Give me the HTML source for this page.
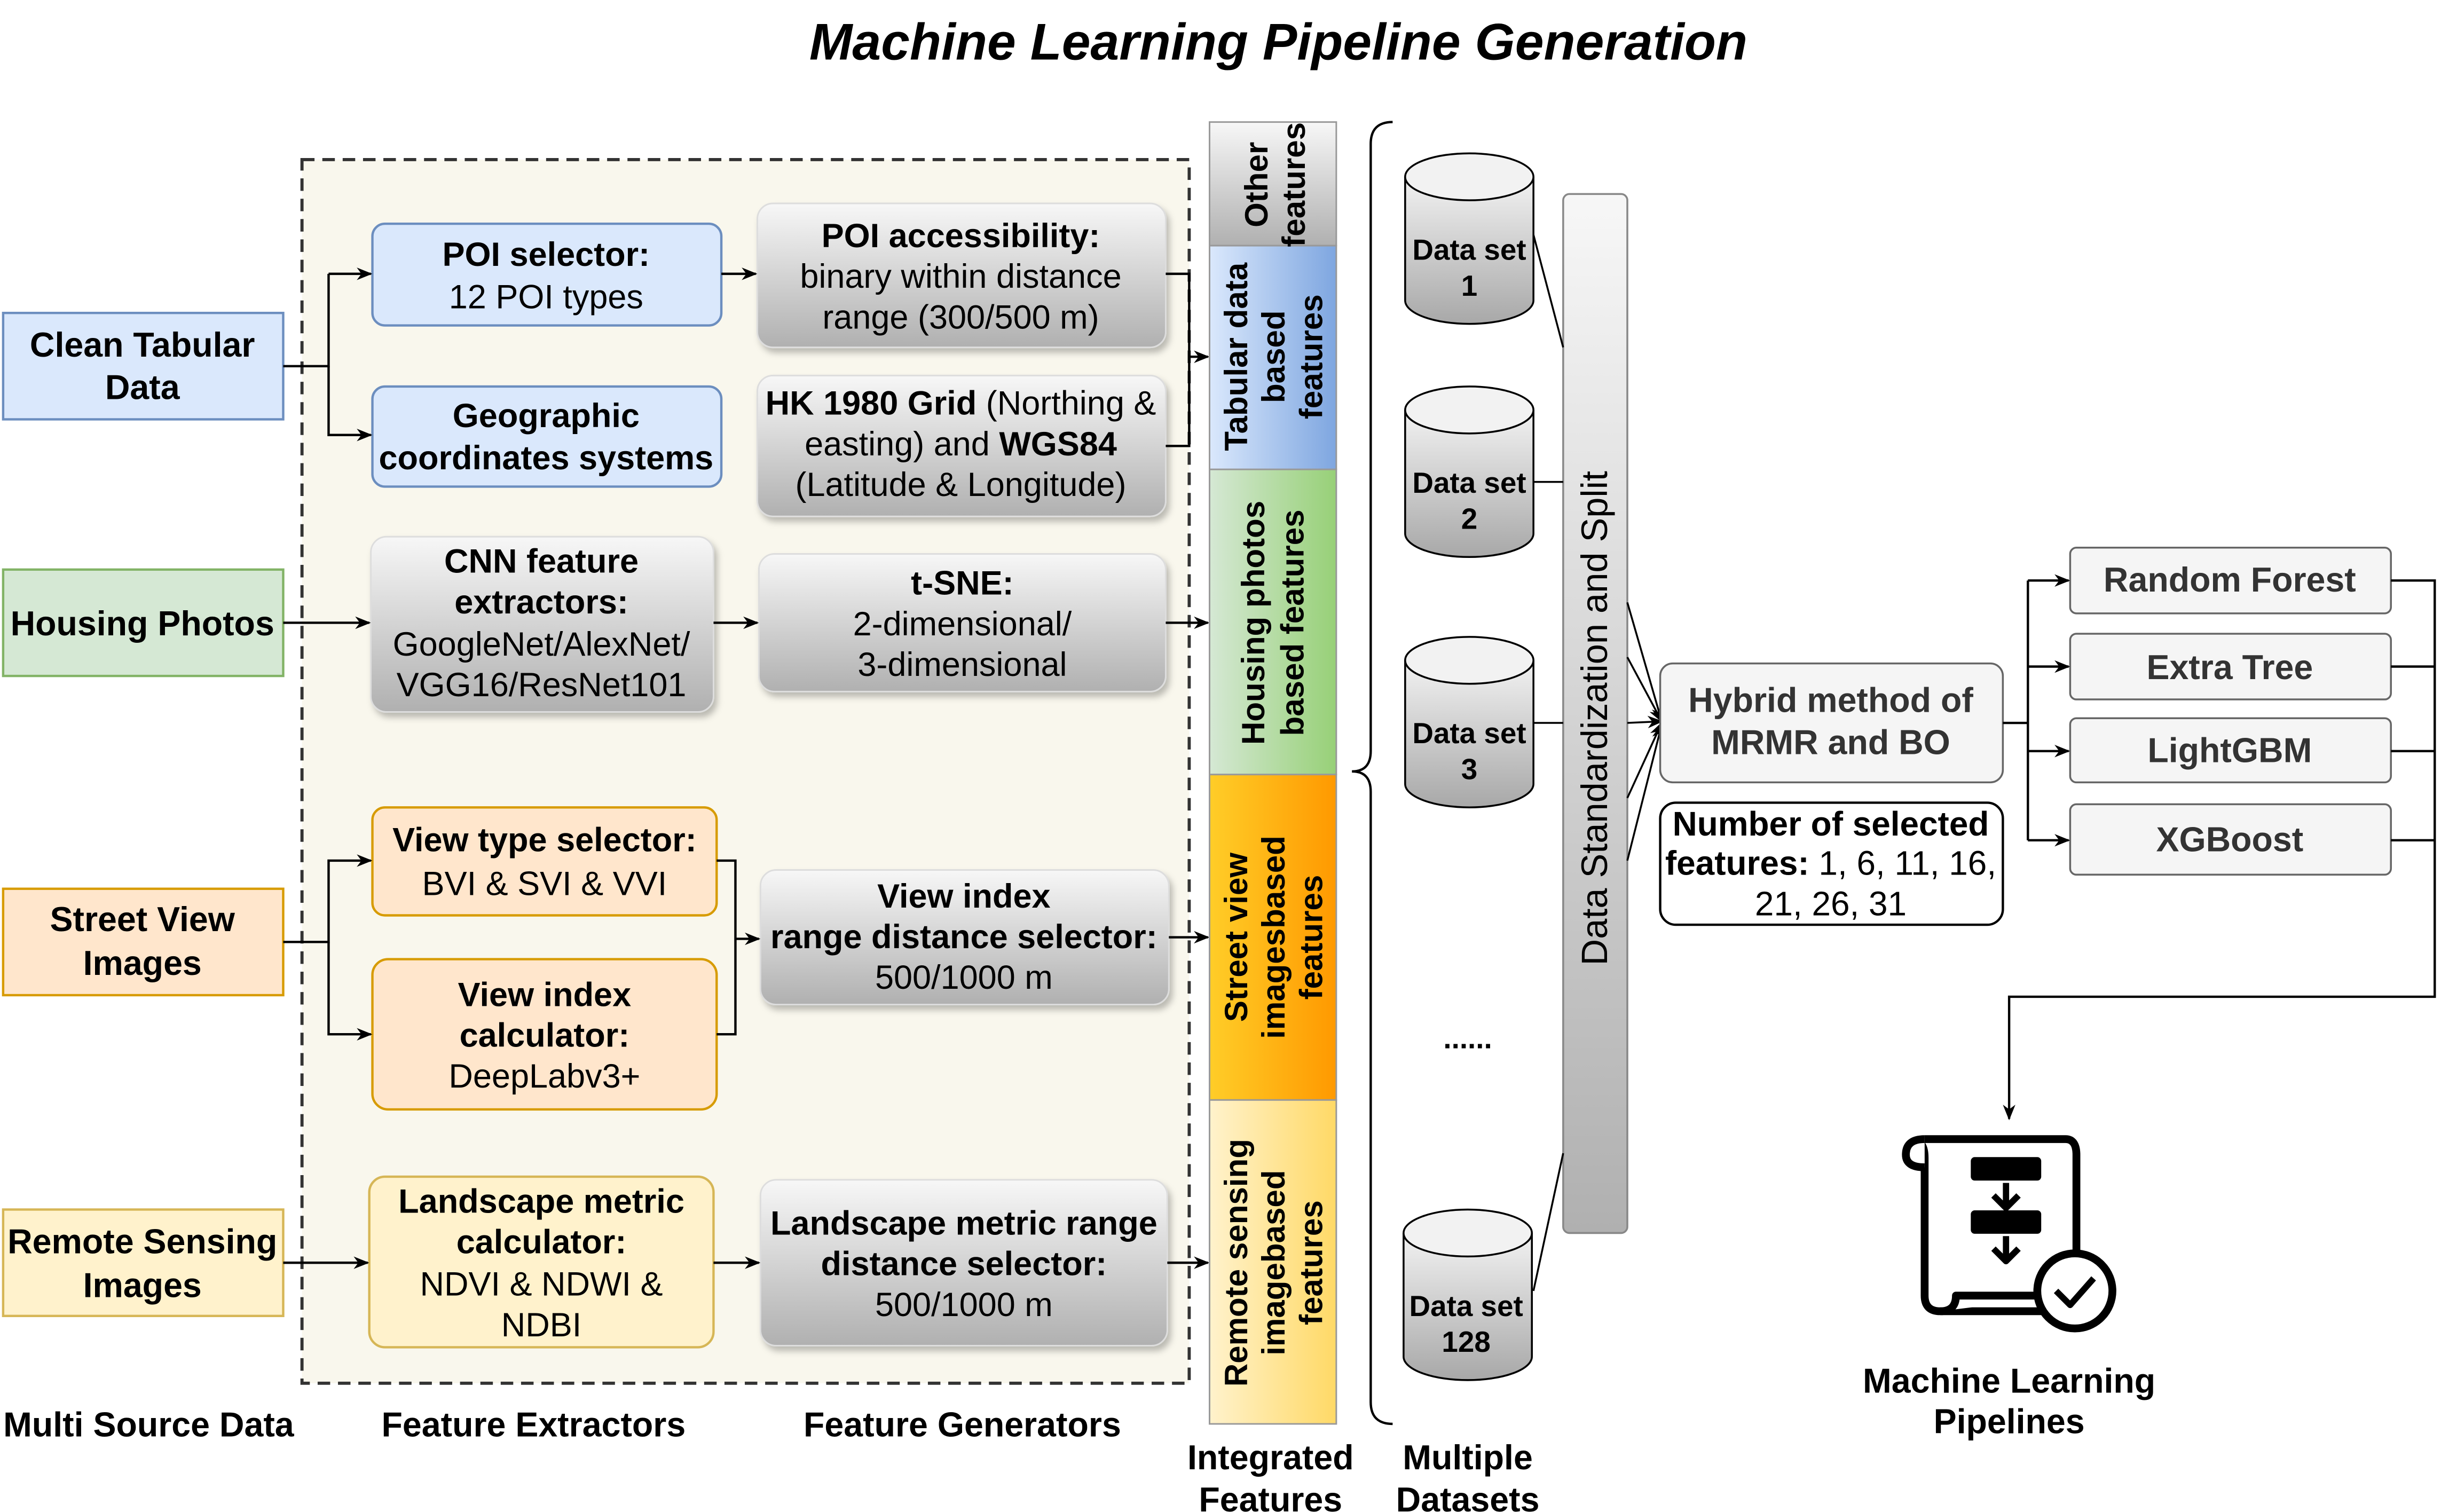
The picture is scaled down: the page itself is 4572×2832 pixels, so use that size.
<!DOCTYPE html>
<html><head><meta charset="utf-8"><style>html,body{margin:0;padding:0;background:#fff}svg{display:block}</style></head>
<body>
<svg xmlns="http://www.w3.org/2000/svg" width="4572" height="2832" viewBox="0 0 1560 966.3" preserveAspectRatio="none" font-family="Liberation Sans, Arial, sans-serif">
<defs>
<linearGradient id="g" x1="0" y1="0" x2="0" y2="1"><stop offset="0" stop-color="#f7f7f7"/><stop offset="1" stop-color="#b0b0b0"/></linearGradient>
<linearGradient id="gb" x1="0" y1="0" x2="1" y2="0"><stop offset="0" stop-color="#dae8fc"/><stop offset="1" stop-color="#7ea6e0"/></linearGradient>
<linearGradient id="gg" x1="0" y1="0" x2="1" y2="0"><stop offset="0" stop-color="#d5e8d4"/><stop offset="1" stop-color="#97d077"/></linearGradient>
<linearGradient id="go" x1="0" y1="0" x2="1" y2="0"><stop offset="0" stop-color="#ffcd28"/><stop offset="1" stop-color="#ff9900"/></linearGradient>
<linearGradient id="gy" x1="0" y1="0" x2="1" y2="0"><stop offset="0" stop-color="#fff2cc"/><stop offset="1" stop-color="#ffd966"/></linearGradient>
<linearGradient id="gc" x1="0" y1="0" x2="0" y2="1"><stop offset="0" stop-color="#f2f2f2"/><stop offset="1" stop-color="#a8a8a8"/></linearGradient>
<marker id="a" markerWidth="10" markerHeight="10" refX="9" refY="5" orient="auto" markerUnits="userSpaceOnUse"><path d="M0,1 L10,5 L0,9 L3,5 z" fill="#000"/></marker>
<filter id="sh" x="-10%" y="-10%" width="130%" height="140%"><feDropShadow dx="2" dy="3" stdDeviation="2" flood-color="#000" flood-opacity="0.25"/></filter>
</defs>

<text x="817" y="38" text-anchor="middle" font-size="33" font-weight="bold" font-style="italic">Machine Learning Pipeline Generation</text>

<rect x="193" y="102" width="567" height="782" fill="#f9f7ed" stroke="#333" stroke-width="2" stroke-dasharray="8,5"/>

<g font-size="22" font-weight="bold" text-anchor="middle">
<rect x="2" y="200" width="179" height="68" fill="#dae8fc" stroke="#6c8ebf" stroke-width="1.5"/>
<text x="91" y="228">Clean Tabular</text><text x="91" y="255">Data</text>
<rect x="2" y="364" width="179" height="68" fill="#d5e8d4" stroke="#82b366" stroke-width="1.5"/>
<text x="91" y="406">Housing Photos</text>
<rect x="2" y="568" width="179" height="68" fill="#ffe6cc" stroke="#d79b00" stroke-width="1.5"/>
<text x="91" y="595">Street View</text><text x="91" y="623">Images</text>
<rect x="2" y="773" width="179" height="68" fill="#fff2cc" stroke="#d6b656" stroke-width="1.5"/>
<text x="91" y="801">Remote Sensing</text><text x="91" y="829">Images</text>
</g>

<g font-size="21.5" text-anchor="middle">
<rect x="238" y="143" width="223" height="65" rx="8" fill="#dae8fc" stroke="#6c8ebf" stroke-width="1.5"/>
<text x="349" y="170" font-weight="bold">POI selector:</text><text x="349" y="197">12 POI types</text>
<rect x="238" y="247" width="223" height="64" rx="8" fill="#dae8fc" stroke="#6c8ebf" stroke-width="1.5"/>
<text x="349" y="273" font-weight="bold">Geographic</text><text x="349" y="300" font-weight="bold">coordinates systems</text>
<rect x="237" y="343" width="219" height="112" rx="10" fill="url(#g)" stroke="#ddd" filter="url(#sh)"/>
<text x="346" y="366" font-weight="bold">CNN feature</text><text x="346" y="392" font-weight="bold">extractors:</text>
<text x="346" y="419">GoogleNet/AlexNet/</text><text x="346" y="445">VGG16/ResNet101</text>
<rect x="238" y="516" width="220" height="69" rx="8" fill="#ffe6cc" stroke="#d79b00" stroke-width="1.5"/>
<text x="348" y="544" font-weight="bold">View type selector:</text><text x="348" y="572">BVI &amp; SVI &amp; VVI</text>
<rect x="238" y="613" width="220" height="96" rx="10" fill="#ffe6cc" stroke="#d79b00" stroke-width="1.5"/>
<text x="348" y="643" font-weight="bold">View index</text><text x="348" y="669" font-weight="bold">calculator:</text><text x="348" y="695">DeepLabv3+</text>
<rect x="236" y="752" width="220" height="109" rx="10" fill="#fff2cc" stroke="#d6b656" stroke-width="1.5"/>
<text x="346" y="775" font-weight="bold">Landscape metric</text><text x="346" y="801" font-weight="bold">calculator:</text>
<text x="346" y="828">NDVI &amp;  NDWI &amp;</text><text x="346" y="854">NDBI</text>

<rect x="484" y="130" width="261" height="92" rx="10" fill="url(#g)" stroke="#ddd" filter="url(#sh)"/>
<text x="614" y="158" font-weight="bold">POI accessibility:</text><text x="614" y="184">binary within distance</text><text x="614" y="210">range (300/500 m)</text>
<rect x="484" y="240" width="261" height="90" rx="10" fill="url(#g)" stroke="#ddd" filter="url(#sh)"/>
<text x="614" y="265"><tspan font-weight="bold">HK 1980 Grid</tspan> (Northing &amp;</text><text x="614" y="291">easting) and <tspan font-weight="bold">WGS84</tspan></text><text x="614" y="317">(Latitude &amp; Longitude)</text>
<rect x="485" y="354" width="260" height="88" rx="10" fill="url(#g)" stroke="#ddd" filter="url(#sh)"/>
<text x="615" y="380" font-weight="bold">t-SNE:</text><text x="615" y="406">2-dimensional/</text><text x="615" y="432">3-dimensional</text>
<rect x="486" y="556" width="261" height="86" rx="10" fill="url(#g)" stroke="#ddd" filter="url(#sh)"/>
<text x="616" y="580" font-weight="bold">View index</text><text x="616" y="606" font-weight="bold">range distance selector:</text><text x="616" y="632">500/1000 m</text>
<rect x="486" y="754" width="260" height="106" rx="10" fill="url(#g)" stroke="#ddd" filter="url(#sh)"/>
<text x="616" y="789" font-weight="bold">Landscape metric range</text><text x="616" y="815" font-weight="bold">distance selector:</text><text x="616" y="841">500/1000 m</text>
</g>

<g stroke="#000" stroke-width="1.5" fill="none">
<path d="M181,234 H210 V175"/><path d="M210,175 H237" marker-end="url(#a)"/>
<path d="M210,234 V278 H237" marker-end="url(#a)"/>
<path d="M461,175 H483" marker-end="url(#a)"/>
<path d="M745,175 H760 V285 H745"/><path d="M760,228 H772" marker-end="url(#a)"/>
<path d="M181,398 H236" marker-end="url(#a)"/>
<path d="M456,398 H484" marker-end="url(#a)"/>
<path d="M745,398 H772" marker-end="url(#a)"/>
<path d="M181,602 H210 V550 H237" marker-end="url(#a)"/>
<path d="M210,602 V661 H237" marker-end="url(#a)"/>
<path d="M458,550 H470 V661 H458"/><path d="M470,600 H485" marker-end="url(#a)"/>
<path d="M747,599 H772" marker-end="url(#a)"/>
<path d="M181,807 H235" marker-end="url(#a)"/>
<path d="M456,807 H485" marker-end="url(#a)"/>
<path d="M746,807 H772" marker-end="url(#a)"/>
</g>

<g stroke="#999" stroke-width="1">
<rect x="773" y="78" width="81" height="79" fill="url(#g)"/>
<rect x="773" y="157" width="81" height="143" fill="url(#gb)"/>
<rect x="773" y="300" width="81" height="195" fill="url(#gg)"/>
<rect x="773" y="495" width="81" height="208" fill="url(#go)"/>
<rect x="773" y="703" width="81" height="207" fill="url(#gy)"/>
</g>
<g font-size="20.5" font-weight="bold" text-anchor="middle">
<text transform="translate(813,118) rotate(-90)"><tspan x="0" y="-3">Other</tspan><tspan x="0" y="21">features</tspan></text>
<text transform="translate(813,228) rotate(-90)"><tspan x="0" y="-16">Tabular data</tspan><tspan x="0" y="8">based</tspan><tspan x="0" y="32">features</tspan></text>
<text transform="translate(813,398) rotate(-90)"><tspan x="0" y="-5">Housing photos</tspan><tspan x="0" y="20">based features</tspan></text>
<text transform="translate(813,599) rotate(-90)"><tspan x="0" y="-16">Street view</tspan><tspan x="0" y="8">imagesbased</tspan><tspan x="0" y="32">features</tspan></text>
<text transform="translate(813,807) rotate(-90)"><tspan x="0" y="-16">Remote sensing</tspan><tspan x="0" y="8">imagebased</tspan><tspan x="0" y="32">features</tspan></text>
</g>

<path d="M890,78 Q876,78 876,92 V480 Q876,493 864,493 Q876,493 876,506 V896 Q876,910 890,910" fill="none" stroke="#000" stroke-width="1.5"/>

<g font-size="18.7" font-weight="bold" text-anchor="middle">
<g>
<path d="M898,113 V192 A41,15 0 0 0 980,192 V113" fill="url(#gc)" stroke="#000" stroke-width="1.2"/>
<ellipse cx="939" cy="113" rx="41" ry="15" fill="#f2f2f2" stroke="#000" stroke-width="1.2"/>
<text x="939" y="166">Data set</text><text x="939" y="189">1</text>
</g>
<g>
<path d="M898,262 V341 A41,15 0 0 0 980,341 V262" fill="url(#gc)" stroke="#000" stroke-width="1.2"/>
<ellipse cx="939" cy="262" rx="41" ry="15" fill="#f2f2f2" stroke="#000" stroke-width="1.2"/>
<text x="939" y="315">Data set</text><text x="939" y="338">2</text>
</g>
<g>
<path d="M898,422 V501 A41,15 0 0 0 980,501 V422" fill="url(#gc)" stroke="#000" stroke-width="1.2"/>
<ellipse cx="939" cy="422" rx="41" ry="15" fill="#f2f2f2" stroke="#000" stroke-width="1.2"/>
<text x="939" y="475">Data set</text><text x="939" y="498">3</text>
</g>
<g>
<path d="M897,788 V867 A41,15 0 0 0 979,867 V788" fill="url(#gc)" stroke="#000" stroke-width="1.2"/>
<ellipse cx="938" cy="788" rx="41" ry="15" fill="#f2f2f2" stroke="#000" stroke-width="1.2"/>
<text x="937" y="841">Data set</text><text x="937" y="864">128</text>
</g>
<text x="938" y="670">......</text>
</g>

<rect x="999" y="124" width="41" height="664" rx="4" fill="url(#g)" stroke="#888" stroke-width="1.2"/>
<text transform="translate(1027,459) rotate(-90)" font-size="23.4" text-anchor="middle">Data Standardization and Split</text>

<g stroke="#000" stroke-width="1.2" fill="none">
<path d="M980,150 L999,222"/><path d="M980,308 H999"/><path d="M980,462 H999"/><path d="M980,825 L999,737"/>
<path d="M1040,385 L1062,461" marker-end="url(#a)"/>
<path d="M1040,420 L1062,461" marker-end="url(#a)"/>
<path d="M1040,462 L1062,461" marker-end="url(#a)"/>
<path d="M1040,510 L1062,462" marker-end="url(#a)"/>
<path d="M1040,550 L1062,463" marker-end="url(#a)"/>
</g>

<rect x="1061" y="424" width="219" height="76" rx="8" fill="#f5f5f5" stroke="#666" stroke-width="1.2"/>
<text x="1170" y="455" font-size="22" font-weight="bold" text-anchor="middle" fill="#333">Hybrid method of</text>
<text x="1170" y="482" font-size="22" font-weight="bold" text-anchor="middle" fill="#333">MRMR and BO</text>
<rect x="1061" y="513" width="219" height="78" rx="10" fill="#fff" stroke="#000" stroke-width="1.5"/>
<g font-size="21.8" text-anchor="middle">
<text x="1170" y="534" font-weight="bold">Number of selected</text>
<text x="1170" y="559"><tspan font-weight="bold">features:</tspan> 1, 6, 11, 16,</text>
<text x="1170" y="585">21, 26, 31</text>
</g>

<g font-size="22" font-weight="bold" text-anchor="middle" fill="#333">
<rect x="1323" y="350" width="205" height="42" rx="4" fill="#f5f5f5" stroke="#666" stroke-width="1.2"/><text x="1425" y="378">Random Forest</text>
<rect x="1323" y="405" width="205" height="42" rx="4" fill="#f5f5f5" stroke="#666" stroke-width="1.2"/><text x="1425" y="434">Extra Tree</text>
<rect x="1323" y="459" width="205" height="41" rx="4" fill="#f5f5f5" stroke="#666" stroke-width="1.2"/><text x="1425" y="487">LightGBM</text>
<rect x="1323" y="514" width="205" height="45" rx="4" fill="#f5f5f5" stroke="#666" stroke-width="1.2"/><text x="1425" y="544">XGBoost</text>
</g>
<g stroke="#000" stroke-width="1.5" fill="none">
<path d="M1280,462 H1296"/><path d="M1296,371 V537"/>
<path d="M1296,371 H1322" marker-end="url(#a)"/>
<path d="M1296,426 H1322" marker-end="url(#a)"/>
<path d="M1296,480 H1322" marker-end="url(#a)"/>
<path d="M1296,537 H1322" marker-end="url(#a)"/>
<path d="M1528,371 H1556 V637 H1284 V715" marker-end="url(#a)"/>
<path d="M1528,426 H1556"/><path d="M1528,480 H1556"/><path d="M1528,537 H1556"/>
</g>

<g stroke="#000" stroke-width="5" fill="#fff" stroke-linejoin="round">
<path d="M1230,728 H1320 Q1327,728 1327,738 V838 H1240 Q1230,838 1230,828 V740 Q1230,728 1222,730"/>
<path d="M1230,728 Q1218,728 1218,738 Q1218,746 1230,746"/>
<path d="M1240,838 Q1250,838 1250,828 H1320"/>
<rect x="1262" y="742" width="40" height="10" fill="#000"/>
<rect x="1262" y="776" width="40" height="10" fill="#000"/>
<path d="M1282,756 V770 M1274,764 L1282,772 L1290,764" fill="none" stroke-width="4"/>
<path d="M1282,790 V804 M1274,798 L1282,806 L1290,798" fill="none" stroke-width="4"/>
<circle cx="1326" cy="825" r="24"/>
<path d="M1314,825 L1323,834 L1338,817" fill="none" stroke-width="4"/>
</g>

<g font-size="22" font-weight="bold" text-anchor="middle">
<text x="1284" y="890">Machine Learning</text><text x="1284" y="916">Pipelines</text>
<text x="95" y="918">Multi Source Data</text>
<text x="341" y="918">Feature Extractors</text>
<text x="615" y="918">Feature Generators</text>
<text x="812" y="939">Integrated</text><text x="812" y="966">Features</text>
<text x="938" y="939">Multiple</text><text x="938" y="966">Datasets</text>
</g>
</svg>
</body></html>
